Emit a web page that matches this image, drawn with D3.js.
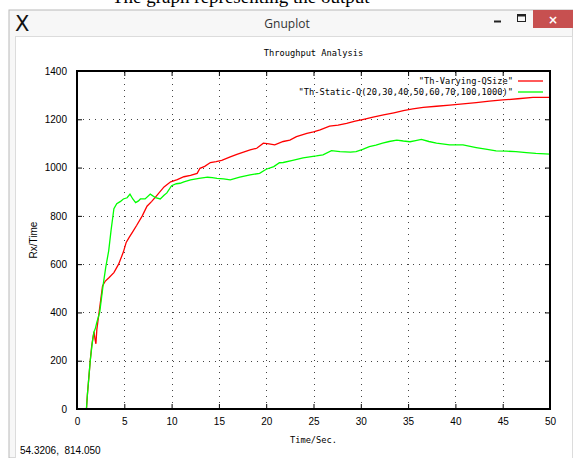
<!DOCTYPE html>
<html>
<head>
<meta charset="utf-8">
<script src="https://cdn.jsdelivr.net/npm/d3@7"></script>
<style>
  body { margin: 0; background: #ffffff; }
  svg { display: block; }
</style>
</head>
<body>
<script>
// Series data
const redTime = [1.0,1.1,1.25,1.4,1.55,1.7,1.8,1.9,2.0,2.1,2.3,2.5,2.7,3.0,3.4,3.9,4.4,4.9,5.2,5.5,5.9,6.3,6.9,7.4,7.9,8.45,9.2,9.9,10.6,11.3,12.0,12.7,13.0,13.5,14.1,14.7,15.3,16.2,16.9,17.6,18.3,19.0,19.7,20.3,20.9,21.8,22.5,23.2,24.3,25.0,25.7,26.7,27.6,28.5,29.4,30.3,31.3,32.4,33.5,34.5,35.5,36.6,38.0,39.4,40.8,42.2,43.6,45.0,46.6,48.2,50.0];
const redValue = [0,60,130,200,260,300,320,290,270,330,390,450,510,530,545,565,600,650,690,710,735,760,800,840,860,885,920,941,950,962,968,976,997,1005,1021,1025,1030,1044,1055,1064,1073,1080,1101,1098,1094,1108,1114,1128,1142,1148,1156,1172,1176,1183,1192,1200,1209,1218,1227,1236,1243,1249,1254,1259,1264,1269,1275,1280,1285,1291,1291];

const greenTime = [1.0,1.1,1.25,1.4,1.6,1.8,1.95,2.1,2.4,2.75,3.05,3.35,3.6,3.9,4.2,4.6,4.9,5.3,5.6,5.9,6.2,6.5,6.7,7.2,7.75,8.3,8.8,9.2,9.5,10.0,10.5,10.9,11.3,12.0,12.9,13.8,14.3,14.8,15.5,16.2,17.2,18.3,19.3,20.0,20.8,21.4,21.8,22.8,23.9,25.3,26.0,26.9,27.8,28.9,29.5,30.2,30.9,31.6,32.3,33.0,33.8,34.5,35.2,35.8,36.4,37.2,38.0,39.4,40.8,42.2,43.2,44.3,45.4,46.4,47.5,48.5,50.0];
const greenValue = [0,60,130,200,270,320,335,360,400,510,590,655,740,830,850,860,870,875,890,870,855,862,870,870,890,875,870,885,895,925,933,935,941,949,955,960,958,955,953,949,960,970,976,993,1004,1020,1021,1030,1040,1048,1053,1070,1066,1064,1066,1075,1087,1093,1101,1108,1114,1110,1107,1112,1117,1108,1101,1094,1094,1083,1076,1069,1068,1066,1062,1059,1056];

const seriesNames = ['"Th-Varying-QSize"', '"Th-Static-Q(20,30,40,50,60,70,100,1000)"'];
const seriesColors = ["#ff0000", "#00ff00"];
const xTicks = [0,5,10,15,20,25,30,35,40,45,50];
const yTicks = [0,200,400,600,800,1000,1200,1400];

const W = 573, H = 458;
const svg = d3.select("body").append("svg").attr("width", W).attr("height", H);

// Bottom of a line of page text peeking in above the window
svg.append("text")
    .attr("x", 112).attr("y", 3)
    .style("font-family", "Liberation Serif")
    .style("font-size", "19px")
    .attr("fill", "#000")
    .text("The graph representing the output");

// Window frame
svg.append("rect").attr("x", 9).attr("y", 10).attr("width", W - 9).attr("height", H - 10)
    .attr("fill", "#f7f7f7").attr("stroke", "#b9b9b9").attr("stroke-width", 1);
svg.append("rect").attr("x", 15.5).attr("y", 36.5).attr("width", W - 16).attr("height", H - 36)
    .attr("fill", "#ffffff").attr("stroke", "#dcdcdc");

// Title bar
svg.append("text").attr("x", 15).attr("y", 31)
    .style("font-family", "DejaVu Sans").style("font-size", "21px")
    .attr("fill", "#111").text("X");
svg.append("text").attr("x", 287).attr("y", 28).attr("text-anchor", "middle")
    .style("font-family", "Open Sans").style("font-size", "12px")
    .attr("fill", "#333").text("Gnuplot");
svg.append("line").attr("x1", 494).attr("x2", 501).attr("y1", 21.5).attr("y2", 21.5)
    .attr("stroke", "#222").attr("stroke-width", 2);
svg.append("rect").attr("x", 517.5).attr("y", 14.5).attr("width", 8).attr("height", 7)
    .attr("fill", "none").attr("stroke", "#222");
svg.append("line").attr("x1", 517.5).attr("x2", 525.5).attr("y1", 15.5).attr("y2", 15.5)
    .attr("stroke", "#222").attr("stroke-width", 2);
svg.append("rect").attr("x", 533).attr("y", 10).attr("width", 40).attr("height", 18)
    .attr("fill", "#c75050");
svg.append("text").attr("x", 553).attr("y", 23.5).attr("text-anchor", "middle")
    .style("font-family", "DejaVu Sans").style("font-size", "12px").style("font-weight", "bold")
    .attr("fill", "#fff").text("\u00d7");

// Scales
const plotLeft = 77, plotRight = 550, plotTop = 71, plotBottom = 409;
const x = d3.scaleLinear().domain([0, 50]).range([plotLeft, plotRight]);
const y = d3.scaleLinear().domain([0, 1400]).range([plotBottom, plotTop]);

// Dotted grid
const grid = svg.append("g").attr("stroke", "#444").attr("stroke-width", 1)
    .attr("stroke-dasharray", "1,5");
grid.selectAll("line.vx").data(xTicks.slice(1, -1)).enter().append("line")
    .attr("x1", d => Math.round(x(d)) + 0.5).attr("x2", d => Math.round(x(d)) + 0.5)
    .attr("y1", plotBottom).attr("y2", plotTop);
grid.selectAll("line.hy").data(yTicks.slice(1, -1)).enter().append("line")
    .attr("y1", d => Math.round(y(d)) + 0.5).attr("y2", d => Math.round(y(d)) + 0.5)
    .attr("x1", plotLeft).attr("x2", plotRight);

// Axes with inward ticks, mirrored on top and right
const tickFont = g => g.selectAll("text")
    .style("font-family", "Liberation Sans").style("font-size", "10px").attr("fill", "#000");
svg.append("g").attr("transform", `translate(0,${plotBottom})`)
    .call(d3.axisBottom(x).tickValues(xTicks).tickSize(-5).tickPadding(9).tickFormat(d3.format("d")))
    .call(g => g.select(".domain").remove())
    .call(tickFont);
svg.append("g").attr("transform", `translate(0,${plotTop})`)
    .call(d3.axisTop(x).tickValues(xTicks).tickSize(-5).tickFormat(""))
    .call(g => g.select(".domain").remove());
svg.append("g").attr("transform", `translate(${plotLeft},0)`)
    .call(d3.axisLeft(y).tickValues(yTicks).tickSize(-5).tickPadding(10).tickFormat(d3.format("d")))
    .call(g => g.select(".domain").remove())
    .call(tickFont);
svg.append("g").attr("transform", `translate(${plotRight},0)`)
    .call(d3.axisRight(y).tickValues(yTicks).tickSize(-5).tickFormat(""))
    .call(g => g.select(".domain").remove());

// Curves
const line = d3.line().x(d => x(d[0])).y(d => y(d[1]));
const series = [
    d3.zip(redTime, redValue),
    d3.zip(greenTime, greenValue)
];
svg.selectAll("path.curve").data(series).enter().append("path")
    .attr("class", "curve")
    .attr("d", line)
    .attr("fill", "none")
    .attr("stroke", (d, i) => seriesColors[i])
    .attr("stroke-width", 1.3);

// Frame
svg.append("rect").attr("x", plotLeft).attr("y", plotTop)
    .attr("width", plotRight - plotLeft).attr("height", plotBottom - plotTop)
    .attr("fill", "none").attr("stroke", "#000").attr("stroke-width", 2);

// Legend
const monoFont = "DejaVu Sans Mono";
const legend = svg.append("g");
seriesNames.forEach((name, i) => {
    const ly = 81 + i * 11;
    legend.append("text").attr("x", 513).attr("y", ly + 3).attr("text-anchor", "end")
        .style("font-family", monoFont).style("font-size", "8.7px").attr("fill", "#000")
        .text(name);
    legend.append("line").attr("x1", 518).attr("x2", 543).attr("y1", ly).attr("y2", ly)
        .attr("stroke", seriesColors[i]).attr("stroke-width", 1.3);
});

// Titles and labels
svg.append("text").attr("x", (plotLeft + plotRight) / 2).attr("y", 56).attr("text-anchor", "middle")
    .style("font-family", monoFont).style("font-size", "8.7px").text("Throughput Analysis");
svg.append("text").attr("x", (plotLeft + plotRight) / 2).attr("y", 443).attr("text-anchor", "middle")
    .style("font-family", monoFont).style("font-size", "8.7px").text("Time/Sec.");
svg.append("text").attr("transform", "rotate(-90)").attr("x", -240).attr("y", 37)
    .attr("text-anchor", "middle")
    .style("font-family", "Liberation Sans").style("font-size", "10px").text("Rx/Time");

// Status bar
svg.append("text").attr("x", 20).attr("y", 454)
    .style("font-family", "Liberation Sans").style("font-size", "10px")
    .style("white-space", "pre")
    .text("54.3206,  814.050");
</script>
</body>
</html>
